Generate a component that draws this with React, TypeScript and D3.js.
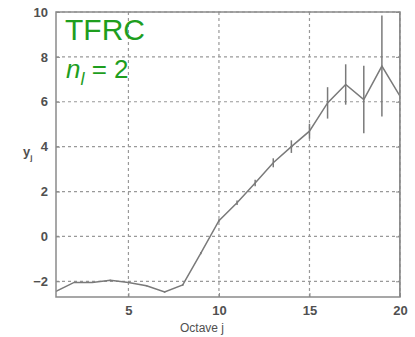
import React, { useEffect, useRef } from "react";
import * as d3 from "d3";

const octaves = [1, 2, 3, 4, 5, 6, 7, 8, 9, 10, 11, 12, 13, 14, 15, 16, 17, 18, 19, 20];
const yValues = [-2.45, -2.05, -2.05, -1.95, -2.05, -2.2, -2.48, -2.16, -0.75, 0.7, 1.5, 2.38, 3.28, 4.0, 4.69, 5.95, 6.77, 6.1, 7.59, 6.25];
const yErrors = [0.02, 0.02, 0.02, 0.02, 0.02, 0.03, 0.03, 0.04, 0.05, 0.06, 0.1, 0.15, 0.2, 0.28, 0.33, 0.7, 0.9, 1.5, 2.25, 10];
const xTicks = [5, 10, 15, 20];
const yTicks = [-2, 0, 2, 4, 6, 8, 10];

const App = () => {
  const svgRef = useRef(null);

  useEffect(() => {
    const margin = { top: 12, right: 15, bottom: 40, left: 56 };
    const width = 415;
    const height = 337;

    const x = d3.scaleLinear().domain([1, 20]).range([margin.left, width - margin.right]);
    const y = d3.scaleLinear().domain([-2.7, 10]).range([height - margin.bottom, margin.top]);

    const svg = d3.select(svgRef.current);
    svg.selectAll("*").remove();

    const grey = "#7a7a7a";
    const font = "Liberation Sans, Arial, sans-serif";

    svg.append("defs")
      .append("clipPath")
      .attr("id", "plotclip")
      .append("rect")
      .attr("x", margin.left)
      .attr("y", margin.top)
      .attr("width", x(20) - x(1))
      .attr("height", y(-2.7) - y(10));

    // grid lines
    svg.append("g")
      .selectAll("line")
      .data(xTicks)
      .enter()
      .append("line")
      .attr("x1", (d) => x(d))
      .attr("x2", (d) => x(d))
      .attr("y1", y(10))
      .attr("y2", y(-2.7))
      .attr("stroke", "#999")
      .attr("stroke-width", 1.2)
      .attr("stroke-dasharray", "3,3");

    svg.append("g")
      .selectAll("line")
      .data(yTicks)
      .enter()
      .append("line")
      .attr("x1", x(1))
      .attr("x2", x(20))
      .attr("y1", (d) => y(d))
      .attr("y2", (d) => y(d))
      .attr("stroke", "#999")
      .attr("stroke-width", 1.2)
      .attr("stroke-dasharray", "3,3");

    // error bars
    const plot = svg.append("g").attr("clip-path", "url(#plotclip)");
    plot.selectAll(".err")
      .data(octaves)
      .enter()
      .append("line")
      .attr("class", "err")
      .attr("x1", (d) => x(d))
      .attr("x2", (d) => x(d))
      .attr("y1", (d, i) => y(yValues[i] - yErrors[i]))
      .attr("y2", (d, i) => y(yValues[i] + yErrors[i]))
      .attr("stroke", grey)
      .attr("stroke-width", 1.5);

    // main line
    const line = d3.line()
      .x((d) => x(d[0]))
      .y((d) => y(d[1]));
    plot.append("path")
      .datum(octaves.map((o, i) => [o, yValues[i]]))
      .attr("d", line)
      .attr("fill", "none")
      .attr("stroke", grey)
      .attr("stroke-width", 1.5);

    // axes box
    svg.append("rect")
      .attr("x", x(1))
      .attr("y", y(10))
      .attr("width", x(20) - x(1))
      .attr("height", y(-2.7) - y(10))
      .attr("fill", "none")
      .attr("stroke", "#8a8a8a")
      .attr("stroke-width", 1.5);

    const xAxis = svg.append("g")
      .attr("transform", "translate(0," + y(-2.7) + ")")
      .call(d3.axisBottom(x).tickValues(xTicks).tickSize(-4).tickPadding(9).tickFormat(d3.format("d")));
    xAxis.select(".domain").remove();

    const yAxis = svg.append("g")
      .attr("transform", "translate(" + x(1) + ",0)")
      .call(d3.axisLeft(y).tickValues(yTicks).tickSize(-4).tickPadding(8).tickFormat(d3.format("d")));
    yAxis.select(".domain").remove();

    // mirrored ticks on the right axis
    svg.append("g")
      .attr("transform", "translate(" + x(20) + ",0)")
      .call(d3.axisRight(y).tickValues(yTicks).tickSize(-4).tickFormat(() => ""))
      .select(".domain").remove();

    svg.selectAll(".tick line").attr("stroke", "#8a8a8a");
    svg.selectAll(".tick text")
      .style("font-family", font)
      .style("font-size", "13px")
      .style("font-weight", "bold")
      .attr("fill", "#505050");

    svg.append("text")
      .attr("x", 202)
      .attr("y", 332)
      .attr("text-anchor", "middle")
      .style("font-family", font)
      .style("font-size", "12px")
      .attr("fill", "#505050")
      .text("Octave j");

    const yLabel = svg.append("text")
      .attr("x", 23)
      .attr("y", 156)
      .style("font-family", font)
      .style("font-size", "13px")
      .style("font-weight", "bold")
      .attr("fill", "#505050");
    yLabel.append("tspan").text("y");
    yLabel.append("tspan").attr("dy", 4).style("font-size", "8px").text("j");

    // annotation
    const green = "#1e9e1e";
    svg.append("text")
      .attr("x", 65)
      .attr("y", 40)
      .style("font-family", font)
      .style("font-size", "30px")
      .attr("fill", green)
      .text("TFRC");

    const note = svg.append("text")
      .attr("x", 66)
      .attr("y", 78)
      .style("font-family", font)
      .style("font-size", "26px")
      .attr("fill", green);
    note.append("tspan").style("font-style", "italic").text("n");
    note.append("tspan").attr("dy", 7).style("font-style", "italic").style("font-size", "18px").text("l");
    note.append("tspan").attr("dy", -7).text(" = 2");
  }, []);

  return (
    <svg ref={svgRef} width="415" height="337" style={{ position: "absolute", left: 0, top: 0, background: "#fff" }} />
  );
};

export default App;
